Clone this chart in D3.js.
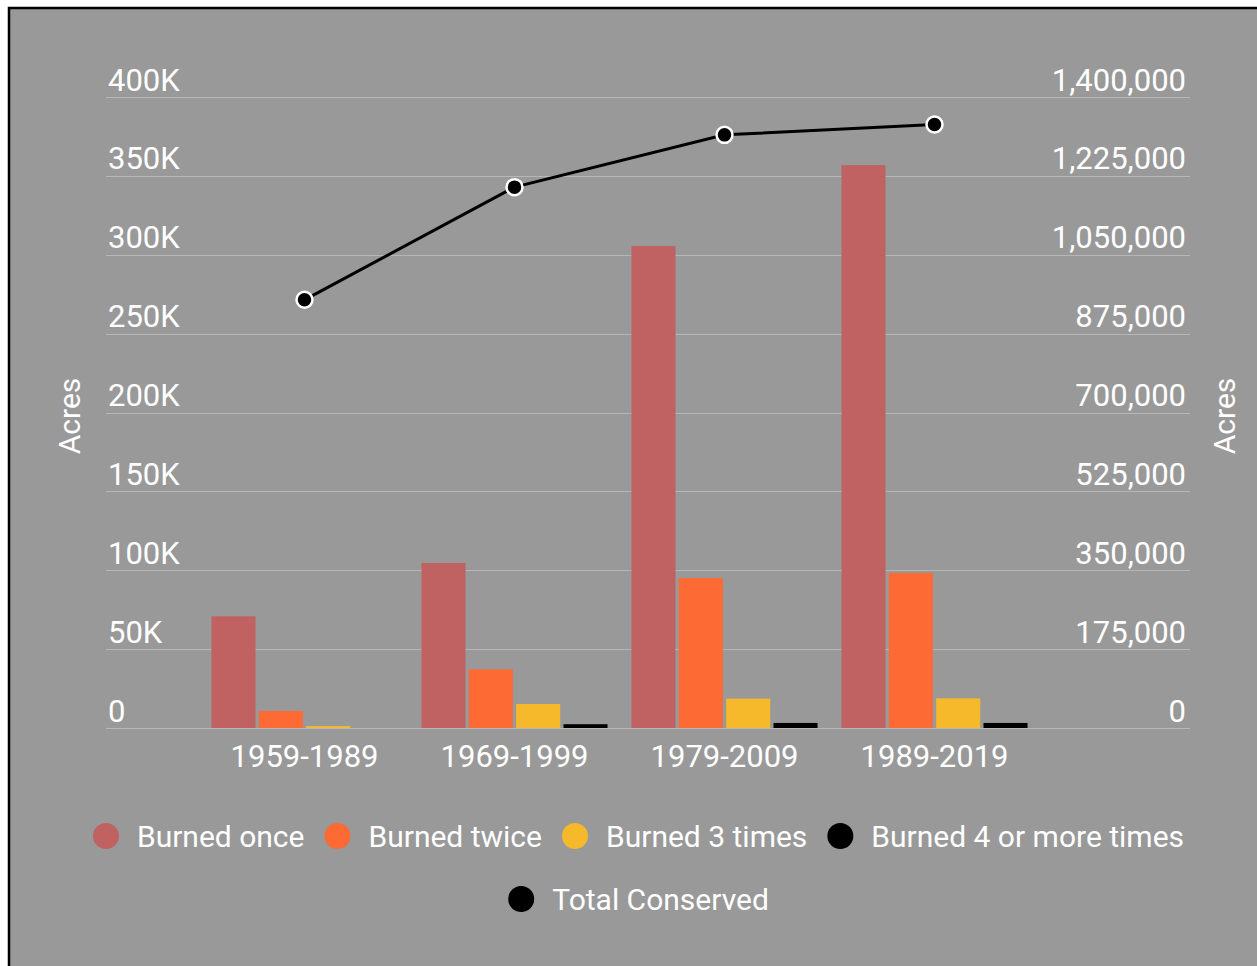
<!DOCTYPE html>
<html>
<head>
<meta charset="utf-8">
<script src="https://cdn.jsdelivr.net/npm/d3@7"></script>
<style>
  html, body { margin: 0; padding: 0; background: #fff; }
  svg { display: block; }
  text { font-family: Roboto, "Noto Sans", sans-serif; fill: #fff; }
</style>
</head>
<body>
<svg id="chart" width="1257" height="966"></svg>
<script>
// Rolling 30-year windows
const periods = ["1959-1989", "1969-1999", "1979-2009", "1989-2019"];

// Acres burned (left axis)
const burnedOnce   = [70800, 104600, 305500, 356800];
const burnedTwice  = [10800, 37200, 95100, 98300];
const burned3      = [1200, 15200, 18600, 18800];
const burned4Plus  = [0, 2400, 3200, 3200];

// Acres conserved (right axis)
const totalConserved = [950000, 1200000, 1316000, 1339000];

const seriesNames  = ["Burned once", "Burned twice", "Burned 3 times", "Burned 4 or more times"];
const seriesColors = ["#c06262", "#fe6a34", "#f6b92c", "#000000"];
const lineName  = "Total Conserved";
const lineColor = "#000000";

const leftTicks  = [0, 50000, 100000, 150000, 200000, 250000, 300000, 350000, 400000];
const rightTicks = [0, 175000, 350000, 525000, 700000, 875000, 1050000, 1225000, 1400000];

const svg = d3.select("#chart");
const W = 1257, H = 966;
const axisFont = "31px";
const legendFont = "30px";

// panel background with its frame
svg.append("rect")
  .attr("x", 9).attr("y", 8)
  .attr("width", W + 20).attr("height", H + 20)
  .attr("fill", "#999999")
  .attr("stroke", "#000").attr("stroke-width", 2.5);

const gridLeft = 106, gridRight = 1190;
const y0 = 728, yTop = 97;

const yLeft  = d3.scaleLinear().domain([0, 400000]).range([y0, yTop]);
const yRight = d3.scaleLinear().domain([0, 1400000]).range([y0, yTop]);

const x = d3.scaleBand().domain(periods).range([199.5, 1039.5])
  .paddingInner(0.114).paddingOuter(0.057);
const xSub = d3.scaleBand().domain(d3.range(seriesNames.length))
  .range([0, x.bandwidth()]).paddingInner(0.07);

// gridlines
svg.append("g").selectAll("line").data(leftTicks).join("line")
  .attr("x1", gridLeft).attr("x2", gridRight)
  .attr("y1", d => Math.round(yLeft(d)) + 0.5)
  .attr("y2", d => Math.round(yLeft(d)) + 0.5)
  .attr("stroke", "#b6b6b6").attr("stroke-width", 1.2);

// left axis labels
const fmtK = d => d === 0 ? "0" : (d / 1000) + "K";
const leftAxis = d3.axisLeft(yLeft).tickValues(leftTicks).tickFormat(fmtK).tickSize(0);
const gL = svg.append("g").attr("transform", `translate(${gridLeft + 2},0)`).call(leftAxis);
gL.select(".domain").remove();
gL.selectAll("text")
  .attr("x", 0).attr("dy", -7)
  .attr("text-anchor", "start")
  .style("font-size", axisFont).style("font-family", "Roboto").attr("fill", "#fff");

// right axis labels
const rightAxis = d3.axisRight(yRight).tickValues(rightTicks).tickFormat(d3.format(",")).tickSize(0);
const gR = svg.append("g").attr("transform", `translate(1186,0)`).call(rightAxis);
gR.select(".domain").remove();
gR.selectAll("text")
  .attr("x", 0).attr("dy", -7)
  .attr("text-anchor", "end")
  .style("font-size", axisFont).style("font-family", "Roboto").attr("fill", "#fff");

// axis titles
svg.append("text")
  .attr("transform", "translate(80,416) rotate(-90)")
  .attr("text-anchor", "middle")
  .style("font-size", "30px")
  .text("Acres");
svg.append("text")
  .attr("transform", "translate(1235,416) rotate(-90)")
  .attr("text-anchor", "middle")
  .style("font-size", "30px")
  .text("Acres");

// bars
const allSeries = [burnedOnce, burnedTwice, burned3, burned4Plus];
const groups = svg.append("g").selectAll("g").data(periods).join("g")
  .attr("transform", d => `translate(${x(d)},0)`);
groups.selectAll("rect")
  .data((p, i) => allSeries.map((s, k) => ({ k, v: s[i] })))
  .join("rect")
  .attr("x", d => xSub(d.k))
  .attr("width", xSub.bandwidth())
  .attr("y", d => yLeft(d.v))
  .attr("height", d => y0 - yLeft(d.v))
  .attr("fill", d => seriesColors[d.k]);

// x axis labels
const xAxis = d3.axisBottom(x).tickSize(0);
const gX = svg.append("g").attr("transform", `translate(0,${y0})`).call(xAxis);
gX.select(".domain").remove();
gX.selectAll("text")
  .attr("y", 0).attr("dy", 39)
  .style("font-size", axisFont).style("font-family", "Roboto").attr("fill", "#fff");

// conserved line
const cx = d => x(d) + x.bandwidth() / 2;
const line = d3.line().x((d, i) => cx(periods[i])).y(d => yRight(d));
svg.append("path")
  .datum(totalConserved)
  .attr("d", line)
  .attr("fill", "none")
  .attr("stroke", lineColor)
  .attr("stroke-width", 3);
svg.append("g").selectAll("circle").data(totalConserved).join("circle")
  .attr("cx", (d, i) => cx(periods[i]))
  .attr("cy", d => yRight(d))
  .attr("r", 8)
  .attr("fill", lineColor)
  .attr("stroke", "#fff").attr("stroke-width", 2.5);

// legend
const legendRows = [
  seriesNames.map((n, i) => ({ name: n, color: seriesColors[i] })),
  [{ name: lineName, color: lineColor }]
];
const rowY = [836, 899];
const centerX = 638.5;
legendRows.forEach((items, r) => {
  const g = svg.append("g");
  let cursor = 0;
  items.forEach((it, i) => {
    const item = g.append("g").attr("transform", `translate(${cursor},0)`);
    item.append("circle").attr("cx", 13).attr("cy", 0).attr("r", 13).attr("fill", it.color);
    const t = item.append("text").attr("x", 44).attr("y", 0).attr("dy", "0.35em")
      .style("font-size", legendFont).text(it.name);
    const w = t.node().getComputedTextLength();
    cursor += 44 + w + 20;
  });
  const total = cursor - 20;
  g.attr("transform", `translate(${centerX - total / 2},${rowY[r]})`);
});
</script>
</body>
</html>
